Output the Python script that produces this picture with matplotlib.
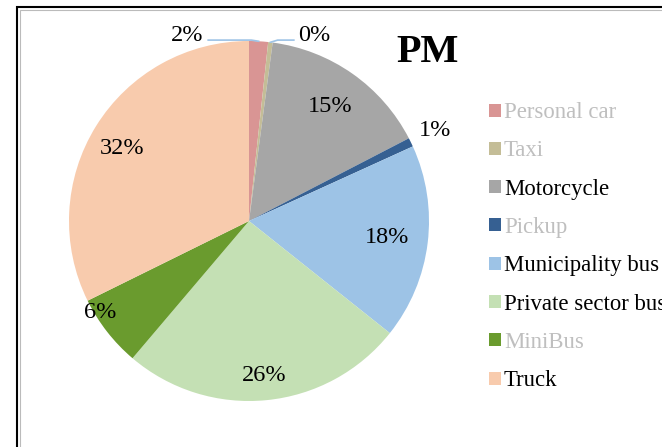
import numpy as np
import matplotlib.pyplot as plt
from matplotlib.patches import Rectangle

# donnees (PM, part par type de vehicule)
categories = ['Personal car', 'Taxi', 'Motorcycle', 'Pickup', 'Municipality bus',
              'Private sector bus', 'MiniBus', 'Truck']
values = [1.7, 0.4, 15.3, 0.8, 17.5, 25.5, 6.5, 32.3]
pct_labels = ['2%', '0%', '15%', '1%', '18%', '26%', '6%', '32%']
colors = ['#D99594', '#C4BD97', '#A6A6A6', '#366092', '#9DC3E6',
          '#C4E0B4', '#6A9B2E', '#F8CBAD']
legend_text_colors = ['#BFBFBF', '#BFBFBF', 'black', '#BFBFBF', 'black',
                      'black', '#BFBFBF', 'black']

plt.rcParams['font.family'] = ['Liberation Serif', 'DejaVu Serif']

W, H = 662, 447
fig = plt.figure(figsize=(W / 100, H / 100), dpi=100)

# axe carre centre sur le camembert
cx, cy, R = 249, H - 221, 180
half = 200
ax = fig.add_axes([(cx - half) / W, (cy - half) / H, 2 * half / W, 2 * half / H])

wedges, _ = ax.pie(values, colors=colors, startangle=90, counterclock=False,
                   radius=1, wedgeprops=dict(linewidth=0))
lim = half / R
ax.set_xlim(-lim, lim)
ax.set_ylim(-lim, lim)
ax.set_aspect('equal')
ax.axis('off')

# position des etiquettes (distance relative au rayon, decalage angulaire)
label_dist = [None, None, 0.78, 1.15, 0.77, 0.86, 0.97, 0.81]
label_shift = [0, 0, 0, 0, 0, 0, -6.5, 2]
for w, lab, d, s in zip(wedges, pct_labels, label_dist, label_shift):
    if d is None:
        continue
    ang = np.deg2rad((w.theta1 + w.theta2) / 2 + s)
    ax.text(d * np.cos(ang), d * np.sin(ang), lab, ha='center', va='center',
            fontsize=17.5)

# petites parts : etiquettes avec traits de rappel
for w, lab, side, off in zip(wedges[:2], pct_labels[:2], [-1, 1], [0.28, 0.13]):
    ang = np.deg2rad((w.theta1 + w.theta2) / 2)
    px, py = np.cos(ang), np.sin(ang)
    tx = px + side * off
    ax.text(tx + side * 0.025, 1.03, lab, ha='left' if side > 0 else 'right',
            va='center', fontsize=17.5)
    ax.plot([px, px + side * 0.04, tx], [py, 1.005, 1.005], color='#9DC3E6',
            linewidth=1.2, clip_on=False)

fig.text(428 / W, 1 - 52 / H, 'PM', ha='center', va='center', fontsize=29,
         fontweight='bold')

# legende
leg = fig.legend(wedges, categories, loc='upper left',
                 bbox_to_anchor=(480 / W, 1 - 93 / H), frameon=False,
                 fontsize=16.4, handlelength=0.5, handleheight=0.5,
                 handletextpad=0.15, labelspacing=0.76, borderaxespad=0)
for t, c in zip(leg.get_texts(), legend_text_colors):
    t.set_color(c)

# cadre
fig.add_artist(Rectangle((17 / W, -0.1), 1, 1 - 7 / H + 0.1,
                         transform=fig.transFigure, fill=False,
                         edgecolor='black', linewidth=1.5))
fig.add_artist(Rectangle((19.5 / W, -0.1), 1, 1 - 9.5 / H + 0.1,
                         transform=fig.transFigure, fill=False,
                         edgecolor='#BBBBBB', linewidth=0.8))

fig.savefig('out.png', dpi=100)
